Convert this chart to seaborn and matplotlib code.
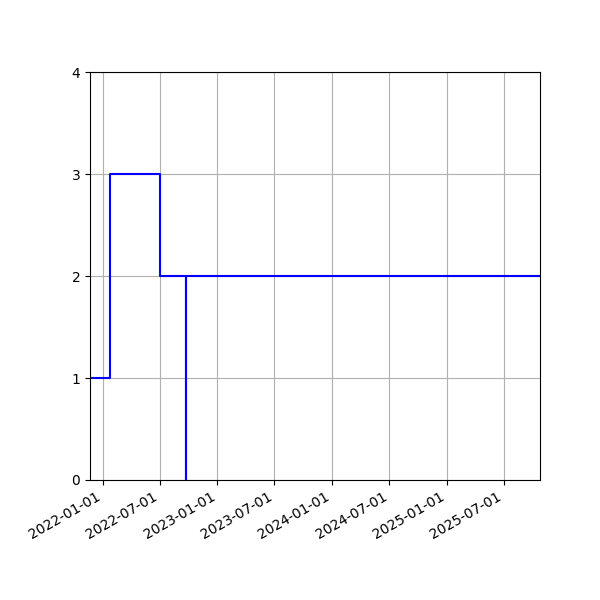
import numpy as np
import pandas as pd
import matplotlib
matplotlib.use('Agg')
import matplotlib.pyplot as plt
import matplotlib.dates as mdates
import seaborn as sns

# step series
dates = ['2021-11-21', '2022-01-24', '2022-07-01', '2022-09-23', '2022-09-24', '2025-10-24']
values = [1, 3, 2, 0, 2, 2]

df = pd.DataFrame({'date': pd.to_datetime(dates), 'value': values})

fig, ax = plt.subplots(figsize=(6, 6), dpi=100)
sns.lineplot(data=df, x='date', y='value', ax=ax, estimator=None,
             drawstyle='steps-post', color='blue', linewidth=1.5)

ax.set_xlim(df['date'].min(), df['date'].max())
ax.set_ylim(0, 4)
ax.set_yticks([0, 1, 2, 3, 4])
ax.xaxis.set_major_locator(mdates.MonthLocator(bymonth=[1, 7]))
ax.xaxis.set_major_formatter(mdates.DateFormatter('%Y-%m-%d'))
ax.grid(True)
ax.set_xlabel('')
ax.set_ylabel('')

fig.autofmt_xdate()
fig.subplots_adjust(left=0.15, right=0.9, top=0.88, bottom=0.2)
plt.savefig('out.png')
